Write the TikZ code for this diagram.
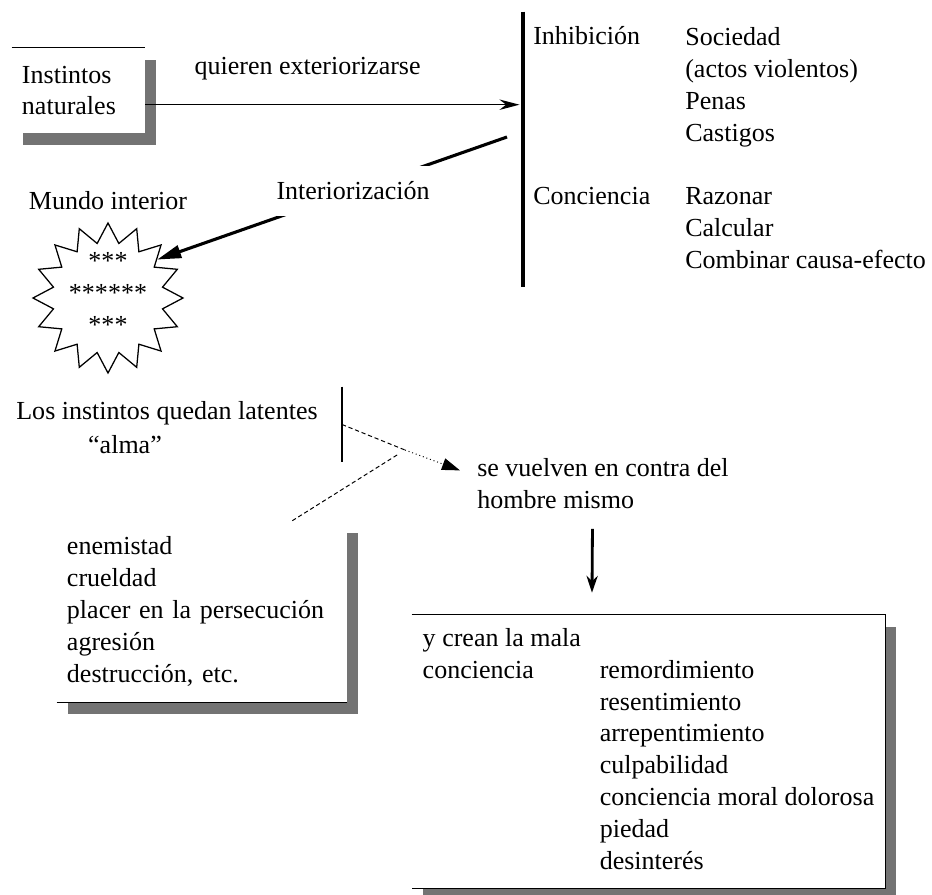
\documentclass[tikz,border=0pt]{standalone}
\usepackage{fontspec}
\setmainfont{Liberation Serif}
\usetikzlibrary{shapes.geometric, arrows.meta, positioning, shadows}
\tikzstyle{caja} = [rectangle, fill=white, inner sep=0pt, align=left, drop shadow={shadow xshift=0.27cm, shadow yshift=-0.29cm, fill=black!55, opacity=1}]
\tikzstyle{texto} = [inner sep=0pt, align=left]
\tikzstyle{borde} = [line width=0.9pt]
\tikzstyle{poste} = [inner sep=0pt, minimum width=0pt]
\tikzstyle{flecha} = [line width=1.1pt, -{Stealth[length=5mm, width=2.6mm]}]
\tikzstyle{flechagruesa} = [line width=2pt, -{Stealth[length=4.2mm, width=2.8mm]}]
\tikzstyle{interior} = [line width=2.2pt, -{Triangle[length=6mm, width=3.2mm]}]
\tikzstyle{punteada} = [line width=0.7pt, densely dashed]

\begin{document}
\begin{tikzpicture}[x=0.025cm, y=-0.025cm, every node/.style={font=\fontsize{18.5}{22.7}\selectfont}]
  \path[use as bounding box, fill=white] (0,0) rectangle (932,894);

  \node (instintos) [caja, minimum width=3.325cm, minimum height=2.125cm, text width=2.825cm] at (78.5,90.5) {Instintos\\naturales};
  \draw[borde] (instintos.north west) -- (instintos.north east);

  \node (barra) [poste, minimum height=6.875cm] at (523,149.5) {};
  \draw[line width=2.6pt] (barra.north) -- (barra.south);

  \node (inhibicion) [texto, anchor=west] at (533,36) {Inhibición};
  \node (sociedad) [texto, anchor=north west] at (685,27) {Sociedad\\(actos violentos)\\Penas\\Castigos};
  \node (conciencia) [texto, anchor=west] at (533,196) {Conciencia};
  \node (razonar) [texto, anchor=north west] at (685,187) {Razonar\\Calcular\\Combinar causa-efecto};

  \draw[flecha, shorten >=0.08cm] (instintos.-12) -- node (quieren) [texto, above=0.6cm, pos=0.43] {quieren exteriorizarse} (instintos.-12 -| barra.west);

  \node (mundo) [star, star points=16, star point ratio=1.35, draw, line width=0.9pt, inner sep=0pt, minimum size=3.75cm] at (108,298) {};
  \node (asteriscos) [texto, align=center] at ([shift={(0,-5)}]mundo.center) {***\\******\\***};
  \node (titulo) [texto, above=0.3cm of mundo] {Mundo interior};

  \draw[interior] ([shift={(-16,-12.5)}]barra.center) -- node (interiorizacion) [texto, fill=white, inner ysep=0.4cm, pos=0.44] {Interiorización} (mundo.38);

  % los instintos quedan latentes
  \node (latentes) [texto] at (167,413) {Los instintos quedan latentes};
  \node (alma) [texto] at (125,445) {“alma”};
  \node (barrita) [poste, minimum height=1.875cm] at (342,424.5) {};
  \draw[line width=0.9pt] (barrita.north) -- (barrita.south);
  \coordinate (cruce) at (405,450);
  \node (vuelven) [texto, anchor=north west] at (477,458) {se vuelven en contra del\\hombre mismo};
  \draw[punteada] (barrita.center) -- (cruce);
  \draw[line width=0.7pt, dotted, -{Triangle[length=4.5mm, width=3mm]}] (cruce) -- ([shift={(-17,-13)}]vuelven.west);

  \node (enemistad) [caja, minimum width=7.25cm, minimum height=4.525cm, text width=6.75cm] at (202,611.5) {enemistad\\crueldad\\placer en la persecución\\agresión\\destrucción, etc.};
  \draw[borde] (enemistad.south west) -- (enemistad.south east);
  \draw[punteada, shorten >=0.2cm] ([shift={(-55,0)}]enemistad.north east) -- (cruce);

  % mala conciencia
  \node (mala) [caja, minimum width=11.825cm, minimum height=6.825cm] at (648.5,751.5) {\begin{tabular}{@{}p{4.425cm}@{}l@{}}
    y crean la mala & \\
    conciencia & remordimiento\\
    & resentimiento\\
    & arrepentimiento\\
    & culpabilidad\\
    & conciencia moral dolorosa\\
    & piedad\\
    & desinterés
  \end{tabular}};
  \draw[borde] (mala.north west) -- (mala.north east) -- (mala.south east) -- (mala.south west);
  \draw[flechagruesa] ([shift={(-10.5,20)}]vuelven.south) -- ([shift={(-56.5,-22)}]mala.north);
\end{tikzpicture}
\end{document}
